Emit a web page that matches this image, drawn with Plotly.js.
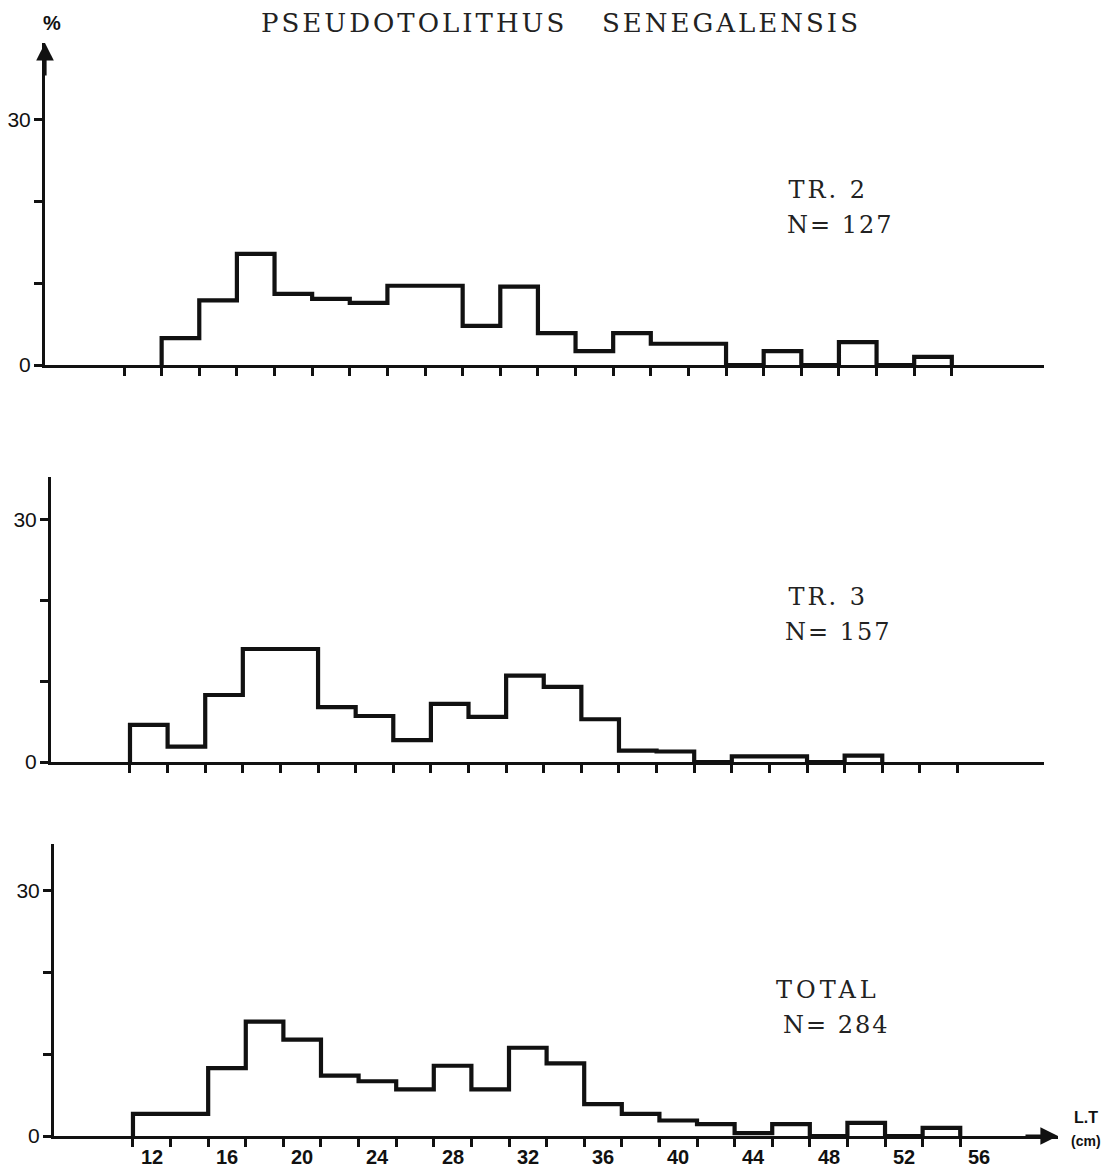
<!DOCTYPE html>
<html>
<head>
<meta charset="utf-8">
<script src="https://cdn.plot.ly/plotly-3.0.1.min.js"></script>
<style>html,body{margin:0;padding:0;background:#fff;} #chart{width:1116px;height:1171px;}</style>
</head>
<body>
<div id="chart"></div>
<script>
// Bin starts (cm), each class is 2 cm wide
const binStart = [11,13,15,17,19,21,23,25,27,29,31,33,35,37,39,41,43,45,47,49,51,53];
// Percent frequencies
const tr2   = [0, 3.3, 7.9, 13.6, 8.7, 8.1, 7.6, 9.7, 9.7, 4.8, 9.6, 3.9, 1.7, 3.9, 2.6, 2.6, 0, 1.7, 0, 2.8, 0, 1.0];
const tr3   = [4.6, 1.9, 8.3, 14.0, 14.0, 6.8, 5.7, 2.7, 7.2, 5.6, 10.7, 9.3, 5.3, 1.4, 1.3, 0, 0.7, 0.7, 0, 0.8, 0, 0];
const total = [2.7, 2.7, 8.3, 14.0, 11.8, 7.4, 6.7, 5.7, 8.6, 5.7, 10.8, 8.9, 3.9, 2.7, 1.9, 1.45, 0.35, 1.45, 0, 1.6, 0, 1.0];
const panelNames = ["TR. 2", "TR. 3", "TOTAL"];
const panelN = ["N= 127", "N= 157", "N= 284"];
const xTickVals = [11,13,15,17,19,21,23,25,27,29,31,33,35,37,39,41,43,45,47,49,51,53,55];
const xLabelVals = [12,16,20,24,28,32,36,40,44,48,52,56];
const yTickVals = [0,10,20,30];
const yTickText = ["0","","","30"];
const titleWords = ["PSEUDOTOLITHUS", "SENEGALENSIS"];

const W = 1116, H = 1171;
const fx = p => p / W;
const fy = p => 1 - p / H;

// panel geometry in pixels
const panels = [
  {xl:45, xr:1044, xr0:[6.8,59.9], y0:365, yt:43,  ppp:8.17},
  {xl:51, xr:1044, xr0:[6.8,59.6], y0:762, yt:477, ppp:8.07},
  {xl:54, xr:1058, xr0:[6.8,60.2], y0:1136,yt:844, ppp:8.17}
];
const series = [tr2, tr3, total];

// step outline of the histogram, from the first to the last non-empty class
function stepXY(vals){
  let a = 0, b = vals.length - 1;
  while (a < b && vals[a] === 0) a++;
  while (b > a && vals[b] === 0) b--;
  const starts = binStart.slice(a, b + 1);
  const v = vals.slice(a, b + 1);
  const xs = [starts[0]].concat(starts).concat([starts[starts.length-1] + 2]);
  const ys = [0].concat(v).concat([0]);
  return {xs, ys};
}

const data = [];
const layout = {
  width: W, height: H,
  margin: {l:0, r:0, t:0, b:0},
  paper_bgcolor: "#fff", plot_bgcolor: "rgba(0,0,0,0)",
  showlegend: false,
  annotations: [],
  font: {family: "Liberation Sans, Arial, sans-serif", color: "#111"}
};

const serif = "DejaVu Serif, Liberation Serif, serif";
const sans = "Liberation Sans, Arial, sans-serif";

panels.forEach((p, i) => {
  const k = i === 0 ? "" : String(i+1);
  const s = stepXY(series[i]);
  data.push({
    x: s.xs, y: s.ys, xaxis: "x"+k, yaxis: "y"+k,
    type: "scatter", mode: "lines",
    line: {shape: "hv", color: "#111", width: 4.2},
    hoverinfo: "skip"
  });
  const yTop = (p.y0 - p.yt) / p.ppp;
  layout["xaxis"+k] = {
    domain: [fx(p.xl), fx(p.xr)], range: p.xr0, anchor: "y"+k,
    showgrid: false, zeroline: false, showline: true, linecolor: "#111", linewidth: 3,
    tickmode: "array", tickvals: xTickVals, ticktext: xTickVals.map(() => ""),
    ticks: "outside", ticklen: 8, tickwidth: 3, tickcolor: "#111",
    showticklabels: false, fixedrange: true
  };
  layout["yaxis"+k] = {
    domain: [fy(p.y0), fy(p.yt)], range: [0, yTop], anchor: "x"+k,
    showgrid: false, zeroline: false, showline: true, linecolor: "#111", linewidth: 3,
    tickmode: "array", tickvals: yTickVals, ticktext: yTickText,
    ticks: "outside", ticklen: 8, tickwidth: 3, tickcolor: "#111",
    ticklabelstandoff: -1,
    tickfont: {family: sans, size: 21, color: "#111"},
    fixedrange: true
  };
  // panel labels
  const ly = [190, 597, 990][i];
  layout.annotations.push({
    xref: "paper", yref: "paper", x: fx([828,828,828][i]), y: fy(ly),
    text: panelNames[i], showarrow: false, xanchor: "center", yanchor: "middle",
    font: {family: serif, size: 24, color: "#222"}
  });
  layout.annotations.push({
    xref: "paper", yref: "paper", x: fx([840,838,836][i]), y: fy(ly + 35),
    text: panelN[i], showarrow: false, xanchor: "center", yanchor: "middle",
    font: {family: serif, size: 24, color: "#222"}
  });
});

// y-axis arrow on the first panel
layout.annotations.push({
  xref: "x", yref: "y", x: 6.8, y: (panels[0].y0 - panels[0].yt)/panels[0].ppp,
  ax: 0, ay: 34, axref: "pixel", ayref: "pixel",
  text: "", showarrow: true, arrowhead: 2, arrowsize: 1.1, arrowwidth: 3.2, arrowcolor: "#111", standoff: 0
});
// x-axis arrow on the bottom panel
layout.annotations.push({
  xref: "x3", yref: "y3", x: 60.2, y: 0,
  ax: -34, ay: 0, axref: "pixel", ayref: "pixel",
  text: "", showarrow: true, arrowhead: 2, arrowsize: 1.1, arrowwidth: 3.2, arrowcolor: "#111", standoff: 0
});
// x labels (class centres) on the bottom panel
xLabelVals.forEach(v => {
  layout.annotations.push({
    xref: "x3", yref: "y3", x: v, y: 0, yshift: -21,
    text: String(v), showarrow: false, xanchor: "center", yanchor: "middle",
    font: {family: sans, size: 20, color: "#111", weight: "bold"}
  });
});
// axis names
layout.annotations.push({
  xref: "paper", yref: "paper", x: fx(52), y: fy(23), text: "%", showarrow: false,
  xanchor: "center", yanchor: "middle",
  font: {family: sans, size: 20, color: "#111", weight: "bold"}
});
layout.annotations.push({
  xref: "paper", yref: "paper", x: fx(1086), y: fy(1117), text: "L.T", showarrow: false,
  xanchor: "center", yanchor: "middle",
  font: {family: sans, size: 16, color: "#111", weight: "bold"}
});
layout.annotations.push({
  xref: "paper", yref: "paper", x: fx(1086), y: fy(1141), text: "(cm)", showarrow: false,
  xanchor: "center", yanchor: "middle",
  font: {family: sans, size: 14, color: "#111", weight: "bold"}
});
// title words
layout.annotations.push({
  xref: "paper", yref: "paper", x: fx(414), y: fy(23), text: titleWords[0], showarrow: false,
  xanchor: "center", yanchor: "middle",
  font: {family: serif, size: 26, color: "#222"}
});
layout.annotations.push({
  xref: "paper", yref: "paper", x: fx(731), y: fy(23), text: titleWords[1], showarrow: false,
  xanchor: "center", yanchor: "middle",
  font: {family: serif, size: 26, color: "#222"}
});

Plotly.newPlot("chart", data, layout, {staticPlot: true, displayModeBar: false}).then(gd => {
  const spacing = {"PSEUDOTOLITHUS": 3, "SENEGALENSIS": 3, "TR. 2": 3, "TR. 3": 3, "TOTAL": 4,
                   "N= 127": 2, "N= 157": 2, "N= 284": 2};
  gd.querySelectorAll(".annotation-text").forEach(t => {
    const s = spacing[t.textContent];
    if (s !== undefined) t.style.letterSpacing = s + "px";
  });
});
</script>
</body>
</html>
